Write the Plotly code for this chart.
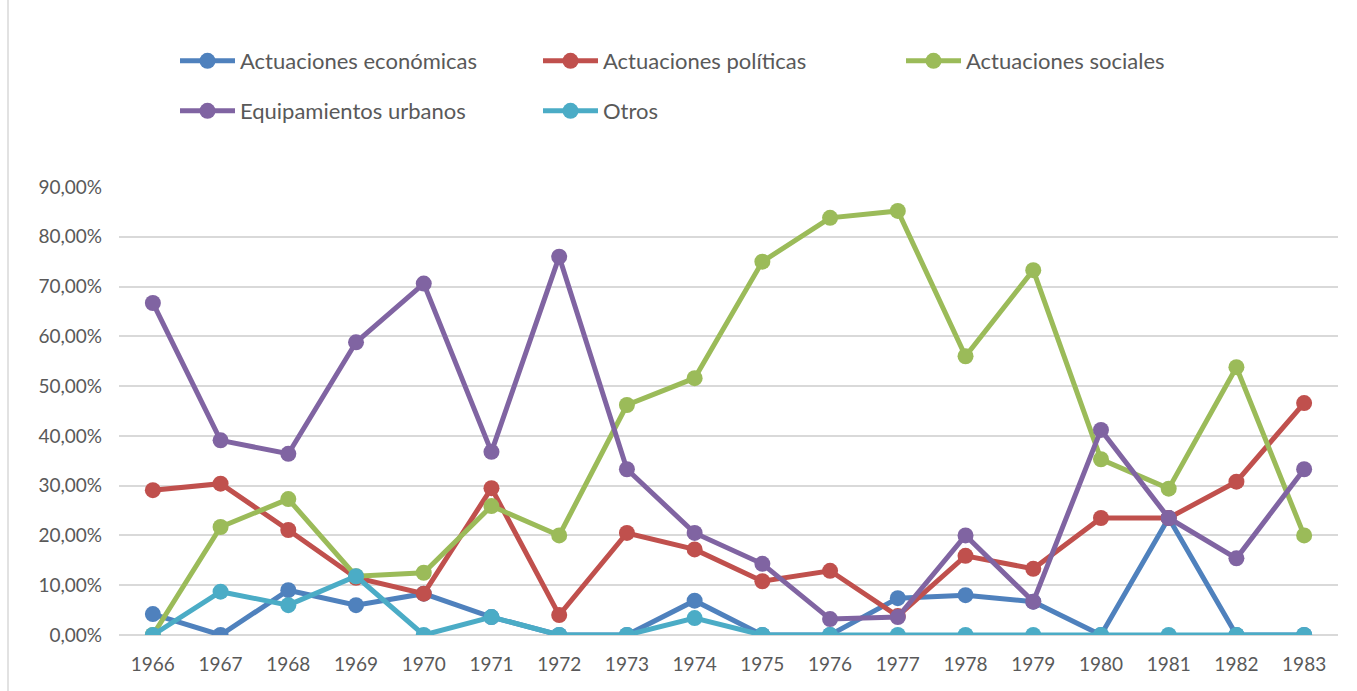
import plotly.graph_objects as go

years = [str(y) for y in range(1966, 1984)]

economicas = [4.2, 0, 9.0, 6.0, 8.3, 3.6, 0, 0, 6.9, 0, 0, 7.4, 8.0, 6.7, 0, 23.5, 0, 0]
politicas = [29.1, 30.4, 21.1, 11.5, 8.3, 29.5, 4.0, 20.5, 17.2, 10.8, 12.9, 3.8, 15.9, 13.3, 23.5, 23.5, 30.8, 46.6]
sociales = [0, 21.7, 27.3, 11.8, 12.5, 25.9, 20.0, 46.2, 51.6, 75.0, 83.8, 85.2, 56.0, 73.3, 35.3, 29.4, 53.8, 20.0]
equipamientos = [66.7, 39.1, 36.4, 58.8, 70.6, 36.8, 76.0, 33.3, 20.5, 14.3, 3.2, 3.6, 20.0, 6.7, 41.2, 23.5, 15.4, 33.3]
otros = [0, 8.7, 6.0, 11.8, 0, 3.6, 0, 0, 3.4, 0, 0, 0, 0, 0, 0, 0, 0, 0]

series = [
    ("Actuaciones económicas", economicas, "#4F81BD", "legend"),
    ("Actuaciones políticas", politicas, "#C0504D", "legend"),
    ("Actuaciones sociales", sociales, "#9BBB59", "legend"),
    ("Equipamientos urbanos", equipamientos, "#8064A2", "legend2"),
    ("Otros", otros, "#4BACC6", "legend2"),
]

yticks = [0, 10, 20, 30, 40, 50, 60, 70, 80, 90]
ytick_text = ["0,00%", "10,00%", "20,00%", "30,00%", "40,00%", "50,00%",
              "60,00%", "70,00%", "80,00%", "90,00%"]

W, H = 1357, 691
ml, mr, mt, mb = 119, 19, 187, 56
pw = W - ml - mr
ph = H - mt - mb

fig = go.Figure()
for name, vals, col, lg in series:
    fig.add_trace(go.Scatter(
        x=years, y=vals, name=name, mode="lines+markers",
        line=dict(color=col, width=5),
        marker=dict(color=col, size=16),
        legend=lg,
    ))

font = "Lato, 'Open Sans', sans-serif"

def px_to_paper_x(px):
    return (px - ml) / pw

def px_to_paper_y(py):
    return (H - mb - py) / ph

legend_common = dict(
    orientation="h", xanchor="left", yanchor="middle",
    font=dict(family=font, size=22, color="#595959"),
    entrywidth=293, entrywidthmode="pixels",
    bgcolor="rgba(0,0,0,0)", itemwidth=55,
)

fig.update_layout(
    width=W, height=H,
    margin=dict(l=ml, r=mr, t=mt, b=mb),
    plot_bgcolor="white", paper_bgcolor="white",
    font=dict(family=font, size=18, color="#595959"),
    legend=dict(x=px_to_paper_x(175), y=px_to_paper_y(61), **legend_common),
    legend2=dict(x=px_to_paper_x(175), y=px_to_paper_y(111), **legend_common),
    xaxis=dict(
        type="category", range=[-0.5, 17.5],
        showgrid=False, showline=False, ticks="",
        tickfont=dict(family=font, size=19, color="#595959"),
        ticklabelstandoff=16,
    ),
    yaxis=dict(
        range=[0, 90], tickvals=yticks, ticktext=ytick_text,
        showgrid=True, gridcolor="#D9D9D9", gridwidth=2,
        zeroline=True, zerolinecolor="#D9D9D9", zerolinewidth=2,
        showline=False, ticks="",
        tickfont=dict(family=font, size=19, color="#595959"),
        ticklabelstandoff=16,
    ),
    showlegend=True,
    shapes=[dict(
        type="line", xref="paper", yref="paper",
        x0=px_to_paper_x(8), x1=px_to_paper_x(8),
        y0=px_to_paper_y(H), y1=px_to_paper_y(0),
        line=dict(color="#D9D9D9", width=1.5), layer="below",
    )],
)

fig.write_html("out.html")
